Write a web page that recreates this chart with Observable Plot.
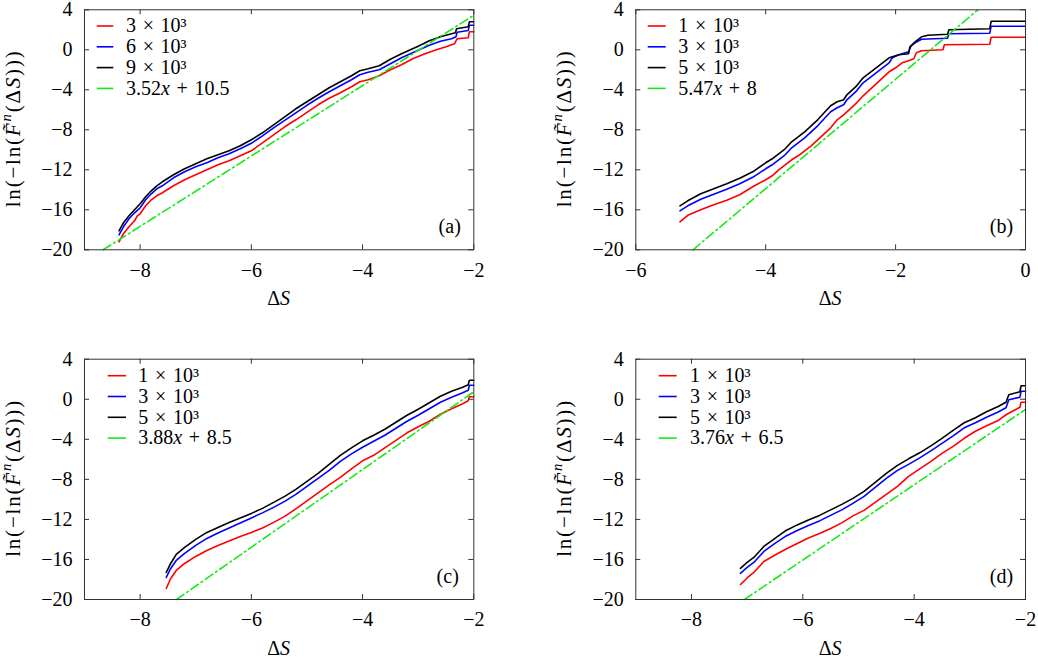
<!DOCTYPE html>
<html>
<head>
<meta charset="utf-8">
<script src="https://cdn.jsdelivr.net/npm/d3@7"></script>
<script src="https://cdn.jsdelivr.net/npm/@observablehq/plot@0.6"></script>
<style>
  body { margin: 0; background: #fff; }
  #fig { position: relative; width: 1038px; height: 657px; background: #fff; }
  #fig svg { position: absolute; }
  #fig svg, #fig svg text { font-family: "Liberation Serif", "Times New Roman", serif !important; }
</style>
</head>
<body>
<div id="fig"></div>
<script>
// ---- Data: [ΔS, ln(-ln(F^n(ΔS)))] for each sample size n ----

// Panel (a): n = 3e3, 6e3, 9e3
const a_n3 = [[-8.38,-19.2],[-8.3,-18.4],[-8.2,-17.7],[-8.1,-17.1],[-8.05,-16.6],[-8.0,-16.4],[-7.9,-15.6],[-7.8,-15.0],[-7.7,-14.6],[-7.6,-14.3],[-7.4,-13.6],[-7.2,-13.0],[-7.0,-12.5],[-6.8,-12.0],[-6.6,-11.5],[-6.4,-11.1],[-6.2,-10.6],[-6.0,-10.1],[-5.8,-9.3],[-5.6,-8.5],[-5.4,-7.7],[-5.2,-7.0],[-5.0,-6.25],[-4.8,-5.5],[-4.6,-4.85],[-4.4,-4.3],[-4.2,-3.7],[-4.05,-3.2],[-3.9,-3.0],[-3.7,-2.6],[-3.5,-2.0],[-3.3,-1.5],[-3.1,-0.9],[-2.9,-0.45],[-2.7,-0.05],[-2.5,0.3],[-2.35,0.6],[-2.3,1.1],[-2.1,1.2],[-2.08,1.8],[-2.0,1.8]];
const a_n6 = [[-8.38,-18.5],[-8.3,-17.7],[-8.2,-16.9],[-8.1,-16.3],[-8.0,-15.8],[-7.9,-15.0],[-7.8,-14.4],[-7.7,-13.9],[-7.6,-13.6],[-7.4,-12.8],[-7.2,-12.2],[-7.0,-11.7],[-6.8,-11.3],[-6.6,-10.8],[-6.4,-10.4],[-6.2,-9.9],[-6.0,-9.35],[-5.8,-8.6],[-5.6,-7.8],[-5.4,-7.05],[-5.2,-6.3],[-5.0,-5.55],[-4.8,-4.85],[-4.6,-4.2],[-4.4,-3.6],[-4.2,-3.0],[-4.05,-2.5],[-3.9,-2.25],[-3.7,-2.0],[-3.5,-1.4],[-3.3,-0.8],[-3.1,-0.3],[-3.0,-0.05],[-2.8,0.45],[-2.6,0.85],[-2.4,1.1],[-2.32,1.3],[-2.3,1.75],[-2.1,1.93],[-2.08,2.45],[-2.0,2.45]];
const a_n9 = [[-8.38,-18.1],[-8.3,-17.3],[-8.2,-16.6],[-8.1,-16.0],[-8.0,-15.4],[-7.9,-14.7],[-7.8,-14.1],[-7.7,-13.6],[-7.6,-13.2],[-7.4,-12.5],[-7.2,-11.9],[-7.0,-11.4],[-6.8,-10.9],[-6.6,-10.5],[-6.4,-10.1],[-6.2,-9.6],[-6.0,-9.0],[-5.8,-8.3],[-5.6,-7.5],[-5.4,-6.7],[-5.2,-5.9],[-5.0,-5.2],[-4.8,-4.5],[-4.6,-3.8],[-4.4,-3.2],[-4.2,-2.6],[-4.05,-2.1],[-3.9,-1.9],[-3.7,-1.6],[-3.5,-0.95],[-3.3,-0.4],[-3.1,0.1],[-3.0,0.35],[-2.8,0.9],[-2.6,1.3],[-2.4,1.6],[-2.33,1.7],[-2.31,2.1],[-2.1,2.3],[-2.08,2.8],[-2.0,2.8]];

// Panel (b): n = 1e3, 3e3, 5e3
const b_n1 = [[-5.32,-17.2],[-5.2,-16.55],[-5.0,-16.0],[-4.8,-15.5],[-4.6,-15.05],[-4.4,-14.5],[-4.2,-13.7],[-4.0,-13.0],[-3.9,-12.6],[-3.8,-12.0],[-3.7,-11.5],[-3.6,-11.0],[-3.5,-10.6],[-3.4,-10.1],[-3.3,-9.6],[-3.2,-9.0],[-3.1,-8.4],[-3.0,-7.8],[-2.9,-7.0],[-2.8,-6.5],[-2.7,-5.9],[-2.6,-5.3],[-2.5,-4.6],[-2.4,-4.0],[-2.3,-3.4],[-2.2,-2.8],[-2.1,-2.2],[-2.0,-1.8],[-1.9,-1.3],[-1.8,-1.1],[-1.72,-0.9],[-1.68,-0.3],[-1.6,-0.1],[-1.27,0.0],[-1.25,0.5],[-0.55,0.55],[-0.53,1.25],[0,1.25]];
const b_n3 = [[-5.32,-16.1],[-5.2,-15.6],[-5.0,-14.95],[-4.8,-14.45],[-4.6,-13.95],[-4.4,-13.4],[-4.2,-12.75],[-4.0,-11.9],[-3.9,-11.5],[-3.8,-11.0],[-3.7,-10.5],[-3.6,-9.8],[-3.5,-9.3],[-3.4,-8.8],[-3.3,-8.2],[-3.2,-7.6],[-3.1,-6.9],[-3.0,-6.2],[-2.9,-5.8],[-2.8,-5.5],[-2.75,-5.0],[-2.6,-4.1],[-2.5,-3.3],[-2.4,-2.8],[-2.3,-2.3],[-2.2,-1.8],[-2.1,-1.3],[-2.05,-0.8],[-1.95,-0.5],[-1.8,-0.2],[-1.76,0.4],[-1.7,0.7],[-1.6,1.05],[-1.2,1.15],[-1.18,1.6],[-0.55,1.65],[-0.53,2.35],[0,2.35]];
const b_n5 = [[-5.32,-15.6],[-5.2,-15.1],[-5.0,-14.4],[-4.8,-13.9],[-4.6,-13.4],[-4.4,-12.85],[-4.2,-12.2],[-4.0,-11.3],[-3.9,-10.9],[-3.8,-10.4],[-3.7,-9.9],[-3.6,-9.2],[-3.5,-8.7],[-3.4,-8.2],[-3.3,-7.6],[-3.2,-7.0],[-3.1,-6.3],[-3.0,-5.6],[-2.9,-5.2],[-2.8,-5.0],[-2.75,-4.5],[-2.6,-3.6],[-2.5,-2.8],[-2.4,-2.3],[-2.3,-1.8],[-2.2,-1.3],[-2.1,-0.8],[-1.95,-0.5],[-1.8,-0.4],[-1.78,0.3],[-1.7,0.8],[-1.6,1.3],[-1.5,1.45],[-1.2,1.55],[-1.18,2.0],[-0.55,2.1],[-0.53,2.85],[0,2.85]];

// Panel (c): n = 1e3, 3e3, 5e3
const c_n1 = [[-7.53,-18.9],[-7.45,-17.9],[-7.35,-17.1],[-7.2,-16.4],[-7.0,-15.7],[-6.8,-15.1],[-6.6,-14.6],[-6.4,-14.15],[-6.2,-13.7],[-6.0,-13.3],[-5.8,-12.85],[-5.6,-12.3],[-5.4,-11.7],[-5.2,-10.95],[-5.0,-10.15],[-4.8,-9.35],[-4.6,-8.55],[-4.4,-7.8],[-4.2,-6.95],[-4.0,-6.15],[-3.8,-5.6],[-3.6,-4.85],[-3.4,-4.1],[-3.2,-3.35],[-3.0,-2.75],[-2.8,-2.2],[-2.6,-1.5],[-2.4,-0.95],[-2.2,-0.45],[-2.1,-0.15],[-2.08,0.25],[-2.0,0.25]];
const c_n3 = [[-7.53,-17.8],[-7.45,-16.9],[-7.35,-16.1],[-7.2,-15.4],[-7.0,-14.6],[-6.8,-13.9],[-6.6,-13.35],[-6.4,-12.85],[-6.2,-12.35],[-6.0,-11.85],[-5.8,-11.35],[-5.6,-10.8],[-5.4,-10.2],[-5.2,-9.5],[-5.0,-8.7],[-4.8,-7.9],[-4.6,-7.1],[-4.4,-6.2],[-4.2,-5.45],[-4.0,-4.8],[-3.8,-4.2],[-3.6,-3.6],[-3.4,-2.9],[-3.2,-2.2],[-3.0,-1.6],[-2.8,-0.95],[-2.6,-0.3],[-2.4,0.2],[-2.2,0.65],[-2.1,0.9],[-2.08,1.4],[-2.0,1.4]];
const c_n5 = [[-7.53,-17.3],[-7.45,-16.4],[-7.35,-15.5],[-7.2,-14.8],[-7.0,-14.0],[-6.8,-13.3],[-6.6,-12.8],[-6.4,-12.3],[-6.2,-11.85],[-6.0,-11.4],[-5.8,-10.9],[-5.6,-10.3],[-5.4,-9.7],[-5.2,-9.0],[-5.0,-8.2],[-4.8,-7.4],[-4.6,-6.5],[-4.4,-5.6],[-4.2,-4.85],[-4.0,-4.15],[-3.8,-3.6],[-3.6,-3.0],[-3.4,-2.3],[-3.2,-1.6],[-3.0,-1.0],[-2.8,-0.35],[-2.6,0.3],[-2.4,0.8],[-2.2,1.2],[-2.1,1.45],[-2.08,1.9],[-2.0,1.9]];

// Panel (d): n = 1e3, 3e3, 5e3
const d_n1 = [[-7.12,-18.5],[-7.0,-17.85],[-6.88,-17.3],[-6.7,-16.2],[-6.5,-15.55],[-6.3,-14.95],[-6.1,-14.4],[-5.9,-13.85],[-5.7,-13.4],[-5.5,-12.9],[-5.3,-12.35],[-5.1,-11.65],[-4.9,-11.1],[-4.7,-10.3],[-4.5,-9.5],[-4.3,-8.7],[-4.1,-7.7],[-3.9,-6.95],[-3.7,-6.2],[-3.5,-5.4],[-3.3,-4.7],[-3.1,-3.9],[-2.9,-3.2],[-2.7,-2.65],[-2.5,-2.15],[-2.35,-1.55],[-2.2,-1.1],[-2.1,-0.8],[-2.08,-0.3],[-2.0,-0.3]];
const d_n3 = [[-7.12,-17.4],[-7.0,-16.8],[-6.88,-16.3],[-6.7,-15.2],[-6.5,-14.4],[-6.3,-13.65],[-6.1,-13.1],[-5.9,-12.6],[-5.7,-12.15],[-5.5,-11.6],[-5.3,-11.05],[-5.1,-10.4],[-4.9,-9.7],[-4.7,-8.8],[-4.5,-7.9],[-4.3,-7.1],[-4.1,-6.5],[-3.9,-5.85],[-3.7,-5.15],[-3.5,-4.4],[-3.3,-3.65],[-3.1,-2.85],[-2.9,-2.35],[-2.7,-1.8],[-2.5,-1.3],[-2.35,-0.85],[-2.3,-0.05],[-2.1,0.2],[-2.08,0.8],[-2.0,0.8]];
const d_n5 = [[-7.12,-16.9],[-7.0,-16.3],[-6.88,-15.8],[-6.7,-14.7],[-6.5,-13.9],[-6.3,-13.1],[-6.1,-12.55],[-5.9,-12.05],[-5.7,-11.6],[-5.5,-11.05],[-5.3,-10.5],[-5.1,-9.9],[-4.9,-9.2],[-4.7,-8.3],[-4.5,-7.4],[-4.3,-6.6],[-4.1,-5.95],[-3.9,-5.35],[-3.7,-4.65],[-3.5,-3.9],[-3.3,-3.1],[-3.1,-2.35],[-2.9,-1.85],[-2.7,-1.25],[-2.5,-0.75],[-2.35,-0.3],[-2.3,0.45],[-2.1,0.75],[-2.08,1.35],[-2.0,1.35]];

// Sample sizes (in units of 10^3) shown in each legend
const sizesA = [3, 6, 9];
const sizesBCD = [1, 3, 5];

// Fitted straight lines: slope, intercept
const fitA = [3.52, 10.5];
const fitB = [5.47, 8];
const fitC = [3.88, 8.5];
const fitD = [3.76, 6.5];

// Axis ticks
const yTicks = [-20, -16, -12, -8, -4, 0, 4];
const xTicksWide = [-8, -6, -4, -2];
const xTicksB = [-6, -4, -2, 0];

// ---- Styling ----
const seriesColors = ["#ff0000", "#0000ff", "#000000"];
const fitColor = "#17ea17";
const axisColor = "#333";
const FONT = "Liberation Serif, Times New Roman, serif";
const FS = 20;
const W = 519, H = 328;

const panels = [
  {tag: "(a)", left: 0,   top: 0,   x: [-9, -2], xt: xTicksWide, series: [a_n3, a_n6, a_n9], sizes: sizesA,   fit: fitA,
   m: {l: 84, r: 45.7, t: 9.3, b: 78.7},  leg: {s0: 12.7, s1: 29.3, tx: 42, y0: 16.7}, tagDx: -13},
  {tag: "(b)", left: 519, top: 0,   x: [-6, 0],  xt: xTicksB,    series: [b_n1, b_n3, b_n5], sizes: sizesBCD, fit: fitB,
   m: {l: 116.3, r: 13, t: 9.3, b: 78.7}, leg: {s0: 12.4, s1: 30.4, tx: 43, y0: 16.7}, tagDx: -12.3},
  {tag: "(c)", left: 0,   top: 328, x: [-9, -2], xt: xTicksWide, series: [c_n1, c_n3, c_n5], sizes: sizesBCD, fit: fitC,
   m: {l: 84, r: 45.7, t: 30.7, b: 57},   leg: {s0: 23.7, s1: 42, tx: 54.3, y0: 17}, tagDx: -15},
  {tag: "(d)", left: 519, top: 328, x: [-9, -2], xt: xTicksWide, series: [d_n1, d_n3, d_n5], sizes: sizesBCD, fit: fitD,
   m: {l: 116.3, r: 13, t: 30.7, b: 57},  leg: {s0: 23.4, s1: 41.4, tx: 54.7, y0: 17}, tagDx: -12.3}
];

const yDomain = [-20, 4];
const minus = d => (d < 0 ? "\u2212" + Math.abs(d) : String(d));
const SP = "\u2004"; // math-style spacing around binary operators

// Append a sequence of styled pieces to an SVG <text> node
function rich(text, parts, size) {
  let raised = false;
  for (const [s, kind] of parts) {
    const t = text.append("tspan").text(s);
    if (kind === "i" || kind === "sup") t.attr("font-style", "italic");
    if (kind === "sup") {
      t.attr("font-size", size * 0.7).attr("dy", -size * 0.42);
      raised = true;
    } else if (raised) {
      t.attr("dy", size * 0.42);
      raised = false;
    }
  }
}

const fig = d3.select("#fig");

for (const p of panels) {
  const innerW = W - p.m.l - p.m.r;
  const innerH = H - p.m.t - p.m.b;
  const [slope, intercept] = p.fit;
  // straight fit line, limited to the visible window
  const fx0 = Math.max(p.x[0], (yDomain[0] - intercept) / slope);
  const fx1 = Math.min(p.x[1], (yDomain[1] - intercept) / slope);
  const fitPts = [fx0, fx1].map(x => ({x, y: slope * x + intercept}));

  const svg = Plot.plot({
    width: W,
    height: H,
    marginLeft: p.m.l, marginRight: p.m.r, marginTop: p.m.t, marginBottom: p.m.b,
    style: {fontSize: FS + "px", color: "#000", background: "transparent", overflow: "visible"},
    x: {domain: p.x},
    y: {domain: yDomain},
    marks: [
      // empirical curves
      ...p.series.map((s, i) =>
        Plot.line(s, {x: d => d[0], y: d => d[1], stroke: seriesColors[i], strokeWidth: 1.6, strokeLinejoin: "miter"})),
      // fitted straight line (dash-dot), drawn over the curves
      Plot.line(fitPts, {x: "x", y: "y", stroke: fitColor, strokeWidth: 1.6, strokeDasharray: "9,3.5,1.6,3.5"}),
      // inward ticks on all four sides
      Plot.tickX(p.xt, {x: d => d, insetTop: innerH - 5, stroke: axisColor}),
      Plot.tickX(p.xt, {x: d => d, insetBottom: innerH - 5, stroke: axisColor}),
      Plot.tickY(yTicks, {y: d => d, insetRight: innerW - 5, stroke: axisColor}),
      Plot.tickY(yTicks, {y: d => d, insetLeft: innerW - 5, stroke: axisColor}),
      Plot.axisX({ticks: p.xt, tickSize: 0, tickPadding: 12.5, tickFormat: minus, label: null}),
      Plot.axisY({ticks: yTicks, tickSize: 0, tickPadding: 12, tickFormat: minus, label: null}),
      Plot.frame({stroke: axisColor, strokeWidth: 1}),
      // panel tag
      Plot.text([p.tag], {frameAnchor: "bottom-right", text: d => d, textAnchor: "end", lineAnchor: "middle",
                          dx: p.tagDx, dy: -23.3, fill: "#000"})
    ]
  });

  svg.style.left = p.left + "px";
  svg.style.top = p.top + "px";
  fig.node().appendChild(svg);

  const s = d3.select(svg);
  const g = s.append("g")
    .attr("font-family", FONT)
    .attr("font-size", FS)
    .attr("text-anchor", "start")
    .attr("fill", "#000");

  // x-axis label ΔS
  const xl = g.append("text")
    .attr("x", p.m.l + innerW / 2)
    .attr("y", p.m.t + innerH + 56)
    .attr("text-anchor", "middle");
  rich(xl, [["Δ"], ["S", "i"]], FS);

  // y-axis label ln(−ln(F̃ⁿ(ΔS)))
  const cy = p.m.t + innerH / 2;
  const yl = g.append("text")
    .attr("transform", `translate(${p.m.l - 64},${cy}) rotate(-90)`)
    .attr("text-anchor", "middle")
    .attr("font-size", 21)
    .attr("textLength", 156)
    .attr("lengthAdjust", "spacing");
  rich(yl, [["ln(\u2212ln("], ["F\u0303", "i"], ["n", "sup"], ["(Δ"], ["S", "i"], [")))"]], 21);

  // legend
  const entries = p.sizes.map((n, i) => ({color: seriesColors[i], parts: [[`${n}${SP}×${SP}10³`]]}))
    .concat([{color: fitColor, parts: [[`${slope}`], ["x", "i"], [`${SP}+${SP}${intercept}`]]}]);
  entries.forEach((e, i) => {
    const yy = p.m.t + p.leg.y0 + i * 20.8;
    g.append("line")
      .attr("x1", p.m.l + p.leg.s0).attr("x2", p.m.l + p.leg.s1)
      .attr("y1", yy).attr("y2", yy)
      .attr("stroke", e.color).attr("stroke-width", 1.6);
    const t = g.append("text").attr("x", p.m.l + p.leg.tx).attr("y", yy + 6.3);
    rich(t, e.parts, FS);
  });
}
</script>
</body>
</html>
